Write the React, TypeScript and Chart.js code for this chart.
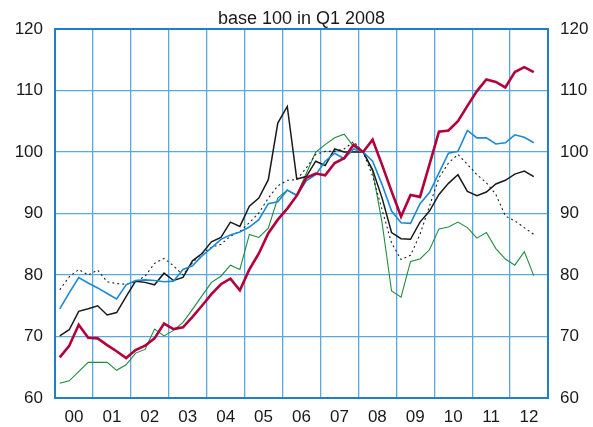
import { useEffect, useRef } from "react";
import { Chart, registerables, type ChartConfiguration } from "chart.js";

Chart.register(...registerables);

// quarterly, Q1 2000 .. Q3 2012 (base 100 in Q1 2008)
const years = ["00", "01", "02", "03", "04", "05", "06", "07", "08", "09", "10", "11", "12"];

const redSeries = [
  66.6, 68.5, 71.9, 69.8, 69.7, 68.6, 67.6, 66.5, 67.8, 68.5, 69.7, 72.1,
  71.2, 71.5, 73.2, 75.0, 76.9, 78.5, 79.4, 77.5, 80.9, 83.5, 86.8, 89.0,
  90.8, 92.9, 95.8, 96.5, 96.2, 98.2, 99.0, 101.2, 100.0, 102.0, 97.9, 93.6,
  89.5, 93.0, 92.7, 98.0, 103.3, 103.5, 105.0, 107.5, 109.9, 111.8, 111.4, 110.5,
  113.0, 113.8, 113.0,
];

const blueSeries = [
  74.5, 77.1, 79.6, 78.7, 77.9, 77.0, 76.1, 78.4, 79.1, 79.2, 79.1, 78.9,
  79.0, 80.9, 81.5, 83.1, 84.4, 85.8, 86.5, 87.0, 87.8, 89.0, 91.6, 91.9,
  93.8, 92.9, 95.3, 96.3, 98.5, 99.8, 98.9, 100.5, 100.0, 98.5, 94.7, 90.4,
  88.5, 88.4, 91.6, 93.4, 96.6, 99.8, 100.1, 103.5, 102.3, 102.3, 101.3, 101.5,
  102.8, 102.4, 101.5,
];

const blackSeries = [
  70.1, 71.1, 74.1, 74.5, 75.0, 73.5, 73.9, 76.5, 79.0, 78.8, 78.4, 80.3,
  79.1, 79.6, 82.3, 83.5, 85.4, 86.1, 88.6, 87.9, 91.2, 92.5, 95.5, 104.7,
  107.4, 95.6, 96.0, 98.5, 97.8, 100.5, 100.0, 100.0, 100.0, 97.1, 92.5, 86.9,
  85.9, 85.8, 88.6, 90.4, 93.1, 94.9, 96.3, 93.6, 92.9, 93.5, 94.8, 95.4,
  96.4, 96.9, 96.0,
];

const dottedSeries = [
  77.6, 79.7, 80.9, 80.0, 80.8, 78.9, 78.6, 78.5, 78.9, 79.8, 81.9, 82.7,
  81.5, 80.0, 82.0, 83.5, 84.5, 85.0, 86.3, 87.1, 88.5, 90.1, 92.5, 94.5,
  95.4, 95.5, 97.4, 99.6, 100.1, 100.1, 100.5, 101.7, 100.0, 96.1, 90.6, 85.2,
  82.5, 83.2, 86.6, 91.2, 95.8, 98.2, 99.6, 98.0, 96.3, 95.0, 93.1, 89.6,
  88.8, 87.7, 86.6,
];

const greenSeries = [
  62.4, 62.8, 64.3, 65.8, 65.8, 65.8, 64.5, 65.4, 67.3, 67.9, 71.2, 70.1,
  71.0, 72.3, 74.4, 76.6, 78.8, 79.8, 81.6, 80.9, 86.6, 86.1, 87.6, 92.5,
  93.8, 93.0, 96.5, 100.0, 101.2, 102.3, 102.9, 100.9, 100.0, 96.9, 88.5, 77.4,
  76.4, 82.2, 82.6, 84.1, 87.5, 87.8, 88.6, 87.7, 86.0, 86.9, 84.3, 82.6,
  81.6, 83.8, 79.9,
];

const yTicks = { min: 60, max: 120, step: 10 };
const subtitle = "base 100 in Q1 2008";

const FONT = "'Liberation Sans', Arial, sans-serif";
const GRID = "#5aa8dc";
const FRAME = "#1f80c6";
const TEXT = "#1a1a1a";

const toPoints = (vals: number[]) => vals.map((y, i) => ({ x: i + 0.5, y }));

const framePlugin = {
  id: "frame",
  beforeDatasetsDraw(chart: Chart) {
    const { ctx, chartArea: a } = chart;
    ctx.save();
    ctx.strokeStyle = FRAME;
    ctx.lineWidth = 2;
    ctx.strokeRect(a.left, a.top, a.right - a.left, a.bottom - a.top);
    ctx.restore();
  },
  afterDraw(chart: Chart) {
    const { ctx, chartArea: a } = chart;
    ctx.save();
    ctx.font = `18px ${FONT}`;
    ctx.fillStyle = TEXT;
    ctx.textAlign = "center";
    ctx.textBaseline = "alphabetic";
    ctx.fillText(subtitle, (a.left + a.right) / 2, 24);
    ctx.restore();
  },
};

export default function App() {
  const ref = useRef<HTMLCanvasElement | null>(null);
  const chartRef = useRef<Chart | null>(null);

  useEffect(() => {
    document.body.style.margin = "0";
    const el = ref.current;
    if (!el) return;
    chartRef.current?.destroy();

    const line = (data: number[], color: string, width: number, dash: number[] = []) => ({
      data: toPoints(data),
      borderColor: color,
      borderWidth: width,
      borderDash: dash,
      pointRadius: 0,
      tension: 0,
      fill: false,
      yAxisID: "y",
    });

    const tickFont = { size: 17, family: FONT };

    const cfg: ChartConfiguration<"line"> = {
      type: "line",
      data: {
        datasets: [
          line(redSeries, "#b3003b", 2.6),
          line(blueSeries, "#1b8ad2", 1.6),
          line(blackSeries, "#1a1a1a", 1.5),
          line(dottedSeries, "#222222", 1.1, [2, 3]),
          line(greenSeries, "#1f8c3c", 1.1),
        ] as any,
      },
      options: {
        responsive: false,
        animation: false,
        layout: { padding: { top: 29 } },
        plugins: { legend: { display: false }, tooltip: { enabled: false } },
        scales: {
          x: {
            type: "linear",
            min: 0,
            max: years.length * 4,
            ticks: {
              stepSize: 2,
              autoSkip: false,
              maxRotation: 0,
              padding: 9,
              color: TEXT,
              font: tickFont,
              callback: (v: any) => (v % 4 === 2 ? years[(v - 2) / 4] : ""),
            },
            grid: {
              drawTicks: false,
              lineWidth: 1.3,
              color: (c: any) => (c.tick && c.tick.value % 4 === 0 ? GRID : "rgba(0,0,0,0)"),
            },
            border: { display: false },
            afterFit: (s: any) => {
              s.height = 29;
            },
          },
          y: {
            position: "left",
            min: yTicks.min,
            max: yTicks.max,
            ticks: { stepSize: yTicks.step, padding: 12, color: TEXT, font: tickFont },
            grid: { drawTicks: false, lineWidth: 1.3, color: GRID },
            border: { display: false },
            afterFit: (s: any) => {
              s.width = 55;
            },
          },
          y2: {
            position: "right",
            min: yTicks.min,
            max: yTicks.max,
            ticks: { stepSize: yTicks.step, padding: 12, color: TEXT, font: tickFont },
            grid: { display: false, drawTicks: false },
            border: { display: false },
            afterFit: (s: any) => {
              s.width = 45;
            },
          },
        },
      } as any,
      plugins: [framePlugin],
    };

    chartRef.current = new Chart(el, cfg);
    return () => {
      chartRef.current?.destroy();
      chartRef.current = null;
    };
  }, []);

  return (
    <div style={{ width: 593, height: 427 }}>
      <canvas ref={ref} width={593} height={427} style={{ display: "block" }} />
    </div>
  );
}
